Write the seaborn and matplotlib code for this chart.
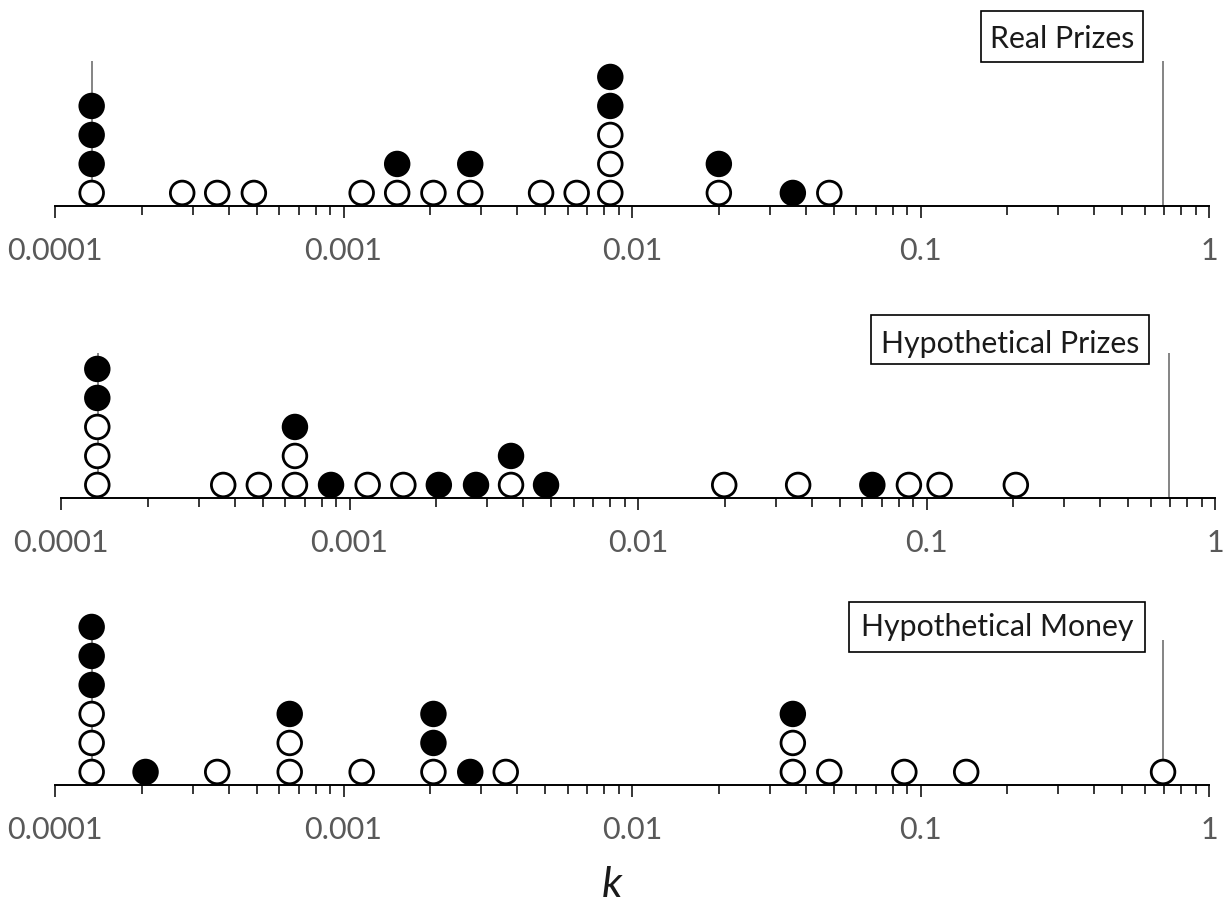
import numpy as np
import pandas as pd
import matplotlib
matplotlib.use("Agg")
import matplotlib.pyplot as plt
from matplotlib.patches import Rectangle
from matplotlib.ticker import NullFormatter, FixedLocator
import seaborn as sns

# ---------------- data ----------------
panel_titles = ["Real Prizes", "Hypothetical Prizes", "Hypothetical Money"]

real_k = [1.34e-4, 2.76e-4, 3.65e-4, 4.89e-4, 1.156e-3, 1.535e-3, 2.05e-3,
          2.75e-3, 4.84e-3, 6.43e-3, 8.41e-3, 0.0200, 0.0361, 0.0483]
real_open = [1, 1, 1, 1, 1, 1, 1, 1, 1, 1, 3, 1, 0, 1]
real_filled = [3, 0, 0, 0, 0, 1, 0, 1, 0, 0, 2, 1, 1, 0]

hprize_k = [1.336e-4, 3.65e-4, 4.85e-4, 6.47e-4, 8.63e-4, 1.156e-3, 1.537e-3,
            2.04e-3, 2.745e-3, 3.63e-3, 4.80e-3, 0.0199, 0.0359, 0.0649,
            0.0869, 0.111, 0.204]
hprize_open = [3, 1, 1, 2, 0, 1, 1, 0, 0, 1, 0, 1, 1, 0, 1, 1, 1]
hprize_filled = [2, 0, 0, 1, 1, 0, 0, 1, 1, 1, 1, 0, 0, 1, 0, 0, 0]

hmoney_k = [1.34e-4, 2.06e-4, 3.65e-4, 6.51e-4, 1.156e-3, 2.05e-3, 2.75e-3,
            3.65e-3, 0.0361, 0.0483, 0.0879, 0.144, 0.693]
hmoney_open = [3, 0, 1, 2, 1, 1, 0, 1, 2, 1, 1, 1, 1]
hmoney_filled = [3, 1, 0, 1, 0, 2, 1, 0, 1, 0, 0, 0, 0]

k_bounds = [1.34e-4, 0.693]
bound_height = 5  # in stacking units

tick_values = [0.0001, 0.001, 0.01, 0.1, 1]
tick_labels = ["0.0001", "0.001", "0.01", "0.1", "1"]

panels = [(real_k, real_open, real_filled),
          (hprize_k, hprize_open, hprize_filled),
          (hmoney_k, hmoney_open, hmoney_filled)]


def stack_frame(ks, n_open, n_filled):
    rows = []
    for k, o, f in zip(ks, n_open, n_filled):
        level = 0
        for _ in range(o):
            rows.append({"k": k, "y": level + 0.45, "type": "open"})
            level += 1
        for _ in range(f):
            rows.append({"k": k, "y": level + 0.45, "type": "filled"})
            level += 1
    return pd.DataFrame(rows)


# ---------------- style ----------------
sns.set_style("white")
plt.rcParams["font.family"] = ["Lato", "DejaVu Sans"]

W, H = 1225, 905
fig = plt.figure(figsize=(W / 100, H / 100), dpi=100)


def fx(x):
    return x / W


def fy(y):
    return 1 - y / H


# axes layout in pixels: (left, right, axis_y)
layout = [(55, 1209, 206), (61, 1215, 498), (55, 1209, 785)]
ax_h_px = 200
unit_px = 29.0

boxes = [  # (x0, x1, y0, y1, baseline)
    (981, 1143, 11, 62, 48),
    (871, 1149, 315, 364, 353),
    (849, 1145, 602, 652, 636),
]

palette = {"open": "white", "filled": "black"}

for i, ((ks, no, nf), (l, r, ay)) in enumerate(zip(panels, layout)):
    ax = fig.add_axes([fx(l), fy(ay), (r - l) / W, ax_h_px / H])
    df = stack_frame(ks, no, nf)
    ax.vlines(k_bounds, 0, bound_height, color="#6f6f6f", lw=1.2, zorder=1)
    sns.scatterplot(data=df, x="k", y="y", hue="type", palette=palette,
                    s=290, edgecolor="black", linewidth=2.0, legend=False,
                    ax=ax, zorder=3, clip_on=False)
    ax.set_xscale("log")
    ax.set_xlim(1e-4, 1)
    ax.set_ylim(0, ax_h_px / unit_px)
    ax.set_xticks(tick_values)
    ax.set_xticklabels(tick_labels)
    ax.xaxis.set_minor_locator(FixedLocator(
        [m * 10.0 ** e for e in range(-4, 0) for m in range(2, 10)]))
    ax.xaxis.set_minor_formatter(NullFormatter())
    ax.tick_params(axis="x", which="major", direction="out", length=8.6,
                   width=1.1, color="black", labelsize=22,
                   labelcolor="#595959", pad=14, bottom=True)
    ax.tick_params(axis="x", which="minor", direction="out", length=6.8,
                   width=1.1, color="black", bottom=True)
    ax.set_yticks([])
    ax.set_xlabel("")
    ax.set_ylabel("")
    for s in ["top", "left", "right"]:
        ax.spines[s].set_visible(False)
    ax.spines["bottom"].set_linewidth(1.4)
    ax.spines["bottom"].set_color("black")
    ax.patch.set_alpha(0)

    x0, x1, y0, y1, base = boxes[i]
    fig.patches.append(Rectangle((fx(x0), fy(y1)), (x1 - x0) / W, (y1 - y0) / H,
                                 transform=fig.transFigure, fill=True,
                                 facecolor="white", edgecolor="black",
                                 lw=1.2, zorder=5))
    fig.text(fx((x0 + x1) / 2), fy(base), panel_titles[i], ha="center",
             va="baseline", fontsize=21.8, color="#1a1a1a", zorder=6)

fig.text(fx(612), fy(897), "k", ha="center", va="baseline", fontsize=31,
         style="italic", color="#1a1a1a")

fig.savefig("out.png", dpi=100)
